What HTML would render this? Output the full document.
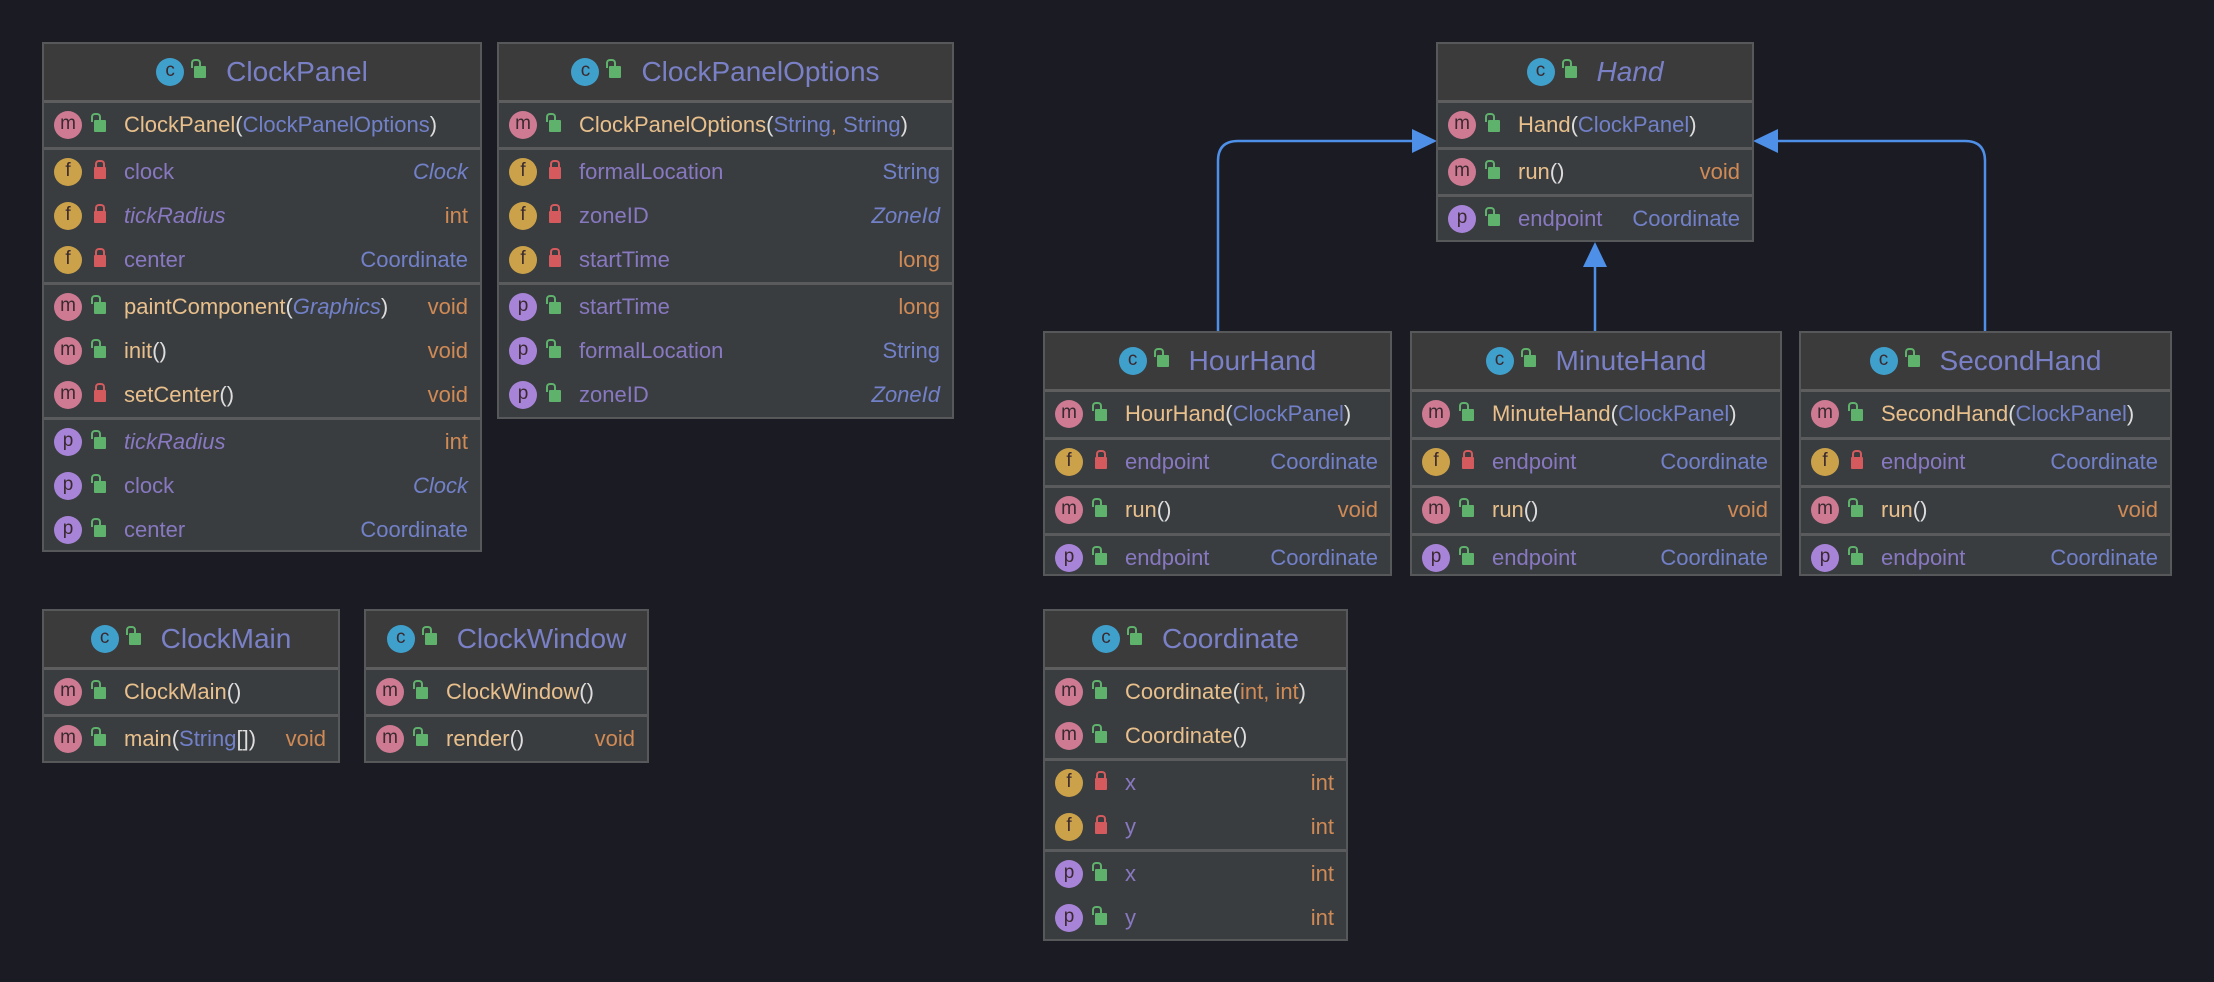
<!DOCTYPE html>
<html><head><meta charset="utf-8">
<style>
*{box-sizing:border-box;margin:0;padding:0}
body{width:2214px;height:982px;background:#1b1b23;position:relative;overflow:hidden;font-family:"Liberation Sans","DejaVu Sans",sans-serif}
.box{position:absolute;background:#3a3d40;border:2px solid #56585a}
.hd{height:59px;background:#3b3b3c;border-bottom:3px solid #5e5e5e;display:flex;align-items:center;justify-content:center;font-size:28px;color:#7a80c6}
.hd .ic{position:relative;left:auto;top:auto;margin-right:10px}
.hd .lk{position:relative;left:auto;top:auto;margin-right:20px;display:inline-block}
.sec{border-bottom:3px solid #5a5b5c}
.sec:last-child{border-bottom:none}
.row{height:44px;position:relative;font-size:22px;white-space:nowrap}
.ic{position:absolute;left:10px;top:8px;width:28px;height:28px;border-radius:50%;color:#3a2a30;font-size:19px;text-align:center;line-height:26px}
.m{background:#cd7a92}.f{background:#cba24a}.p{background:#a884d9}.c{background:#40a0cc}
.lk{position:absolute;left:50px;top:17px;width:12px;height:12px;border-radius:1px}
.lk::before{content:"";position:absolute;left:1px;top:-7px;width:6px;height:7px;border:2px solid;border-bottom:none;border-radius:4px 4px 0 0}
.g{background:#5fb26c}.g::before{border-color:#5fb26c;left:-3px}
.r{background:#d45a5e}.r::before{border-color:#d45a5e;left:1px}
.nm{position:absolute;left:80px;top:9px}
.ty{position:absolute;right:12px;top:9px}
.mn{color:#e9c08c}.fn{color:#8878c0}.cl{color:#7280c8}.o{color:#d08a55}.w{color:#dddddd}
i{font-style:italic}
</style></head><body>

<svg width="2214" height="982" style="position:absolute;left:0;top:0">
<g fill="none" stroke="#4e8fe8" stroke-width="2.5">
<path d="M1218 331 V161 Q1218 141 1238 141 H1414"/>
<path d="M1985 331 V161 Q1985 141 1965 141 H1776"/>
<path d="M1595 331 V265"/>
</g>
<g fill="#4e8fe8">
<polygon points="1412,129 1437,141 1412,153"/>
<polygon points="1778,129 1753,141 1778,153"/>
<polygon points="1583,267 1595,242 1607,267"/>
</g>
</svg>

<!-- ClockPanel -->
<div class="box" style="left:42px;top:42px;width:440px;height:510px">
<div class="hd"><span class="ic c">c</span><span class="lk g"></span>ClockPanel</div>
<div class="sec"><div class="row"><span class="ic m">m</span><span class="lk g"></span><span class="nm"><span class="mn">ClockPanel</span><span class="w">(</span><span class="cl">ClockPanelOptions</span><span class="w">)</span></span></div></div>
<div class="sec">
<div class="row"><span class="ic f">f</span><span class="lk r"></span><span class="nm fn">clock</span><span class="ty cl"><i>Clock</i></span></div>
<div class="row"><span class="ic f">f</span><span class="lk r"></span><span class="nm fn"><i>tickRadius</i></span><span class="ty o">int</span></div>
<div class="row"><span class="ic f">f</span><span class="lk r"></span><span class="nm fn">center</span><span class="ty cl">Coordinate</span></div>
</div>
<div class="sec">
<div class="row"><span class="ic m">m</span><span class="lk g"></span><span class="nm"><span class="mn">paintComponent</span><span class="w">(</span><span class="cl"><i>Graphics</i></span><span class="w">)</span></span><span class="ty o">void</span></div>
<div class="row"><span class="ic m">m</span><span class="lk g"></span><span class="nm mn">init<span class="w">()</span></span><span class="ty o">void</span></div>
<div class="row"><span class="ic m">m</span><span class="lk r"></span><span class="nm mn">setCenter<span class="w">()</span></span><span class="ty o">void</span></div>
</div>
<div class="sec">
<div class="row"><span class="ic p">p</span><span class="lk g"></span><span class="nm fn"><i>tickRadius</i></span><span class="ty o">int</span></div>
<div class="row"><span class="ic p">p</span><span class="lk g"></span><span class="nm fn">clock</span><span class="ty cl"><i>Clock</i></span></div>
<div class="row"><span class="ic p">p</span><span class="lk g"></span><span class="nm fn">center</span><span class="ty cl">Coordinate</span></div>
</div>
</div>

<!-- ClockPanelOptions -->
<div class="box" style="left:497px;top:42px;width:457px;height:377px">
<div class="hd"><span class="ic c">c</span><span class="lk g"></span>ClockPanelOptions</div>
<div class="sec"><div class="row"><span class="ic m">m</span><span class="lk g"></span><span class="nm"><span class="mn">ClockPanelOptions</span><span class="w">(</span><span class="cl">String</span><span class="o">, </span><span class="cl">String</span><span class="w">)</span></span></div></div>
<div class="sec">
<div class="row"><span class="ic f">f</span><span class="lk r"></span><span class="nm fn">formalLocation</span><span class="ty cl">String</span></div>
<div class="row"><span class="ic f">f</span><span class="lk r"></span><span class="nm fn">zoneID</span><span class="ty cl"><i>ZoneId</i></span></div>
<div class="row"><span class="ic f">f</span><span class="lk r"></span><span class="nm fn">startTime</span><span class="ty o">long</span></div>
</div>
<div class="sec">
<div class="row"><span class="ic p">p</span><span class="lk g"></span><span class="nm fn">startTime</span><span class="ty o">long</span></div>
<div class="row"><span class="ic p">p</span><span class="lk g"></span><span class="nm fn">formalLocation</span><span class="ty cl">String</span></div>
<div class="row"><span class="ic p">p</span><span class="lk g"></span><span class="nm fn">zoneID</span><span class="ty cl"><i>ZoneId</i></span></div>
</div>
</div>

<!-- Hand -->
<div class="box" style="left:1436px;top:42px;width:318px;height:200px">
<div class="hd"><span class="ic c">c</span><span class="lk g"></span><i>Hand</i></div>
<div class="sec"><div class="row"><span class="ic m">m</span><span class="lk g"></span><span class="nm"><span class="mn">Hand</span><span class="w">(</span><span class="cl">ClockPanel</span><span class="w">)</span></span></div></div>
<div class="sec"><div class="row"><span class="ic m">m</span><span class="lk g"></span><span class="nm mn">run<span class="w">()</span></span><span class="ty o">void</span></div></div>
<div class="sec"><div class="row"><span class="ic p">p</span><span class="lk g"></span><span class="nm fn">endpoint</span><span class="ty cl">Coordinate</span></div></div>
</div>

<!-- HourHand -->
<div class="box" style="left:1043px;top:331px;width:349px;height:245px">
<div class="hd"><span class="ic c">c</span><span class="lk g"></span>HourHand</div>
<div class="sec"><div class="row" style="height:45px"><span class="ic m">m</span><span class="lk g"></span><span class="nm"><span class="mn">HourHand</span><span class="w">(</span><span class="cl">ClockPanel</span><span class="w">)</span></span></div></div>
<div class="sec"><div class="row" style="height:45px"><span class="ic f">f</span><span class="lk r"></span><span class="nm fn">endpoint</span><span class="ty cl">Coordinate</span></div></div>
<div class="sec"><div class="row" style="height:45px"><span class="ic m">m</span><span class="lk g"></span><span class="nm mn">run<span class="w">()</span></span><span class="ty o">void</span></div></div>
<div class="sec"><div class="row" style="height:45px"><span class="ic p">p</span><span class="lk g"></span><span class="nm fn">endpoint</span><span class="ty cl">Coordinate</span></div></div>
</div>

<!-- MinuteHand -->
<div class="box" style="left:1410px;top:331px;width:372px;height:245px">
<div class="hd"><span class="ic c">c</span><span class="lk g"></span>MinuteHand</div>
<div class="sec"><div class="row" style="height:45px"><span class="ic m">m</span><span class="lk g"></span><span class="nm"><span class="mn">MinuteHand</span><span class="w">(</span><span class="cl">ClockPanel</span><span class="w">)</span></span></div></div>
<div class="sec"><div class="row" style="height:45px"><span class="ic f">f</span><span class="lk r"></span><span class="nm fn">endpoint</span><span class="ty cl">Coordinate</span></div></div>
<div class="sec"><div class="row" style="height:45px"><span class="ic m">m</span><span class="lk g"></span><span class="nm mn">run<span class="w">()</span></span><span class="ty o">void</span></div></div>
<div class="sec"><div class="row" style="height:45px"><span class="ic p">p</span><span class="lk g"></span><span class="nm fn">endpoint</span><span class="ty cl">Coordinate</span></div></div>
</div>

<!-- SecondHand -->
<div class="box" style="left:1799px;top:331px;width:373px;height:245px">
<div class="hd"><span class="ic c">c</span><span class="lk g"></span>SecondHand</div>
<div class="sec"><div class="row" style="height:45px"><span class="ic m">m</span><span class="lk g"></span><span class="nm"><span class="mn">SecondHand</span><span class="w">(</span><span class="cl">ClockPanel</span><span class="w">)</span></span></div></div>
<div class="sec"><div class="row" style="height:45px"><span class="ic f">f</span><span class="lk r"></span><span class="nm fn">endpoint</span><span class="ty cl">Coordinate</span></div></div>
<div class="sec"><div class="row" style="height:45px"><span class="ic m">m</span><span class="lk g"></span><span class="nm mn">run<span class="w">()</span></span><span class="ty o">void</span></div></div>
<div class="sec"><div class="row" style="height:45px"><span class="ic p">p</span><span class="lk g"></span><span class="nm fn">endpoint</span><span class="ty cl">Coordinate</span></div></div>
</div>

<!-- ClockMain -->
<div class="box" style="left:42px;top:609px;width:298px;height:154px">
<div class="hd"><span class="ic c">c</span><span class="lk g"></span>ClockMain</div>
<div class="sec"><div class="row"><span class="ic m">m</span><span class="lk g"></span><span class="nm mn">ClockMain<span class="w">()</span></span></div></div>
<div class="sec"><div class="row"><span class="ic m">m</span><span class="lk g"></span><span class="nm"><span class="mn">main</span><span class="w">(</span><span class="cl">String</span><span class="w">[])</span></span><span class="ty o">void</span></div></div>
</div>

<!-- ClockWindow -->
<div class="box" style="left:364px;top:609px;width:285px;height:154px">
<div class="hd"><span class="ic c">c</span><span class="lk g"></span>ClockWindow</div>
<div class="sec"><div class="row"><span class="ic m">m</span><span class="lk g"></span><span class="nm mn">ClockWindow<span class="w">()</span></span></div></div>
<div class="sec"><div class="row"><span class="ic m">m</span><span class="lk g"></span><span class="nm mn">render<span class="w">()</span></span><span class="ty o">void</span></div></div>
</div>

<!-- Coordinate -->
<div class="box" style="left:1043px;top:609px;width:305px;height:332px">
<div class="hd"><span class="ic c">c</span><span class="lk g"></span>Coordinate</div>
<div class="sec">
<div class="row"><span class="ic m">m</span><span class="lk g"></span><span class="nm"><span class="mn">Coordinate</span><span class="w">(</span><span class="o">int, int</span><span class="w">)</span></span></div>
<div class="row"><span class="ic m">m</span><span class="lk g"></span><span class="nm mn">Coordinate<span class="w">()</span></span></div>
</div>
<div class="sec">
<div class="row"><span class="ic f">f</span><span class="lk r"></span><span class="nm fn">x</span><span class="ty o">int</span></div>
<div class="row"><span class="ic f">f</span><span class="lk r"></span><span class="nm fn">y</span><span class="ty o">int</span></div>
</div>
<div class="sec">
<div class="row"><span class="ic p">p</span><span class="lk g"></span><span class="nm fn">x</span><span class="ty o">int</span></div>
<div class="row"><span class="ic p">p</span><span class="lk g"></span><span class="nm fn">y</span><span class="ty o">int</span></div>
</div>
</div>

</body></html>
